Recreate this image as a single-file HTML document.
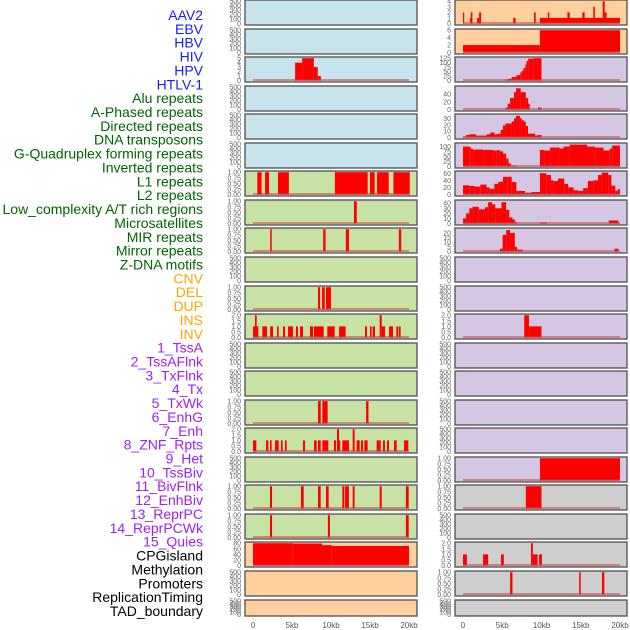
<!DOCTYPE html>
<html><head><meta charset="utf-8"><style>
body{margin:0;background:#fff;width:630px;height:630px;overflow:hidden}
svg{display:block}
</style></head><body>
<svg id="chart" width="630" height="630" xmlns="http://www.w3.org/2000/svg" font-family="Liberation Sans, sans-serif"></svg>
<script>
const trackLabels=["AAV2","EBV","HBV","HIV","HPV","HTLV-1","Alu repeats","A-Phased repeats","Directed repeats","DNA transposons","G-Quadruplex forming repeats","Inverted repeats","L1 repeats","L2 repeats","Low_complexity A/T rich regions","Microsatellites","MIR repeats","Mirror repeats","Z-DNA motifs","CNV","DEL","DUP","INS","INV","1_TssA","2_TssAFlnk","3_TxFlnk","4_Tx","5_TxWk","6_EnhG","7_Enh","8_ZNF_Rpts","9_Het","10_TssBiv","11_BivFlnk","12_EnhBiv","13_ReprPC","14_ReprPCWk","15_Quies","CPGisland","Methylation","Promoters","ReplicationTiming","TAD_boundary"];
const labelColors=["#1a1aff","#1a1aff","#1a1aff","#1a1aff","#1a1aff","#1a1aff","#006400","#006400","#006400","#006400","#006400","#006400","#006400","#006400","#006400","#006400","#006400","#006400","#006400","#ffa500","#ffa500","#ffa500","#ffa500","#ffa500","#a020f0","#a020f0","#a020f0","#a020f0","#a020f0","#a020f0","#a020f0","#a020f0","#a020f0","#a020f0","#a020f0","#a020f0","#a020f0","#a020f0","#a020f0","#000","#000","#000","#000","#000"];
const xTickValues=[0,5,10,15,20];
const xTickLabels=["0","5kb","10kb","15kb","20kb"];
const emptyTicks=[0,100,200,300,400,500];
const unitTicks=[0,0.25,0.5,0.75,1];
const unitTickLabels=["0.00","0.25","0.50","0.75","1.00"];
const twoTicks=[0,0.5,1,1.5,2];
const twoTickLabels=["0.0","0.5","1.0","1.5","2.0"];
// segments: [startKb, endKb, value]
const L2segs=[[5.4,6.3,4],[6.3,7.8,5],[7.8,8.3,3],[8.3,8.7,1]];
const L6segs=[[0.55,1.1,1],[1.54,2.05,1],[3.2,4.6,1],[10.5,14.7,1],[15,15.6,1],[15.9,17.4,1],[18,20.1,1]];
const L7segs=[[12.95,13.3,1]];
const L8segs=[[2.2,2.4,1],[9.0,9.3,1],[11.9,12.3,1],[18.7,19.0,1]];
const L10segs=[[8.33,8.6,1],[8.85,9.2,1],[9.36,10,1]];
const L11segs=[[0,0.68,1],[0.26,0.47,2],[1.2,1.8,1],[2.2,2.56,1],[3.08,3.29,1],[3.85,4.1,1],[4.49,5.13,1],[5.51,5.77,1],[6.03,6.41,1],[7.3,7.7,1],[7.82,9.06,1],[9.53,10.47,1],[11.03,11.88,1],[14.36,14.62,1],[15.0,15.2,1],[15.34,15.64,1],[16.24,16.5,2],[16.5,16.92,1],[17.44,17.95,1],[18.38,18.63,1],[18.72,18.93,1]];
const L14segs=[[8.33,8.68,1],[8.89,9.57,1],[14.5,14.8,1]];
const L15segs=[[0,0.43,1],[1.67,1.97,1],[2.18,2.39,1],[2.82,3.29,1],[3.59,3.8,1],[4.1,4.32,1],[6.41,6.67,1],[7.82,8.16,1],[8.33,8.68,1],[8.89,9.66,1],[10.38,10.64,1],[10.77,11.03,2],[11.03,11.11,1],[11.45,12.31,1],[12.78,13.03,2],[13.29,13.68,1],[13.85,14.1,1],[14.27,14.7,1],[15.85,16.37,1],[16.67,16.92,1],[17.18,17.44,1],[18.08,18.42,1],[19.36,19.91,1]];
const L17segs=[[2.18,2.44,1],[6.15,6.5,1],[8.33,8.68,1],[9.36,9.7,1],[11.45,11.7,1],[11.8,12.3,1],[12.78,13.03,1],[16.24,16.5,1],[19.6,19.96,1]];
const L18segs=[[2.18,2.44,1],[9.6,9.87,1],[19.6,19.96,1]];
const L19segs=[[0,5.1,80],[5.1,8.85,79],[8.85,10.1,73],[10.1,20,70]];
const R0segs=[[0,0.08,2],[0.9,1.0,1],[1.0,1.2,2],[1.8,2.05,1],[2.05,2.3,2],[6.4,6.7,1],[9.05,9.26,2],[9.8,20,1],[10.8,11.0,2],[13.3,13.6,2],[15.2,15.5,2],[16.6,16.8,3],[17.8,18.05,4],[18.05,18.3,2]];
const R1segs=[[0,9.8,2],[9.8,20,6]];
const R2segs=[[5.4,5.8,5],[5.8,6.2,10],[6.2,6.8,20],[6.8,7.3,30],[7.3,7.5,45],[7.5,7.7,55],[7.7,7.95,70],[7.95,8.1,90],[8.1,8.3,110],[8.3,8.95,122],[8.95,10.0,125]];
const R3segs=[[5.4,5.7,5],[5.7,6.0,15],[6.0,6.5,30],[6.5,6.75,45],[6.75,7.35,55],[7.35,8.0,45],[8.0,8.3,30],[8.3,8.5,15],[9.55,10.0,5]];
const R4segs=[[0,0.4,1],[0.4,0.9,4],[0.9,1.65,5],[1.65,3.0,3],[3.0,3.5,5],[3.5,4.0,8],[4.0,4.4,5],[4.4,4.8,6],[4.8,5.1,12],[5.1,5.4,19],[5.4,6.2,22],[6.2,6.5,25],[6.5,6.75,30],[6.75,7.25,34],[7.25,7.5,30],[7.5,7.77,27],[7.77,8.0,25],[8.0,8.28,18],[8.28,9.2,6],[9.2,9.5,3],[9.5,10.0,4]];
const R5segs=[[0,0.8,100],[0.8,1.0,98],[1.0,1.3,88],[1.3,2.6,85],[2.6,3.9,83],[3.9,4.3,80],[4.3,4.7,82],[4.7,5.1,76],[5.1,5.5,65],[5.5,5.8,40],[5.8,6.1,15],[6.1,6.9,4],[9.8,10.4,83],[10.4,11.1,80],[11.1,12.3,95],[12.3,12.8,90],[12.8,13.6,100],[13.6,15.8,110],[15.8,16.8,100],[16.8,17.9,95],[17.9,18.7,80],[18.7,19.0,90],[19.0,20,105]];
const R6segs=[[0,0.8,26],[0.8,1.5,24],[1.5,2.2,22],[2.2,3.0,28],[3.0,3.4,20],[3.4,4.0,16],[4.0,4.5,30],[4.5,5.1,36],[5.1,5.7,50],[5.7,6.2,50],[6.2,6.8,35],[6.8,7.9,10],[7.9,8.7,5],[8.7,9.8,7],[9.8,10.6,60],[10.6,11.2,55],[11.2,11.5,40],[11.5,12.1,38],[12.1,12.9,45],[12.9,13.4,30],[13.4,14.1,20],[14.1,14.7,12],[14.7,15.3,10],[15.3,15.9,18],[15.9,16.6,38],[16.6,17.2,40],[17.2,17.7,55],[17.7,18.5,62],[18.5,18.9,55],[18.9,19.4,25],[19.4,19.7,10],[19.7,20,15]];
const R7segs=[[0,0.4,10],[0.4,0.8,20],[0.8,1.2,30],[1.2,2.0,33],[2.0,2.8,28],[2.8,3.2,32],[3.2,3.7,42],[3.7,4.1,38],[4.1,4.9,30],[4.9,5.5,42],[5.5,5.9,27],[5.9,6.3,12],[6.3,6.6,8],[6.6,6.9,3],[9.8,10.7,2],[18.6,19.8,6]];
const R8segs=[[4.7,5.05,3],[5.05,5.5,18],[5.5,6.0,23],[6.0,6.6,20],[6.6,6.9,5],[6.9,7.6,2],[19.3,19.8,3]];
const R11segs=[[7.8,8.4,2],[8.4,10.0,1]];
const R16segs=[[9.8,20,1]];
const R17segs=[[8.0,10.0,1]];
const R19segs=[[0,0.5,1],[2.55,3.2,1],[4.84,5.2,1],[8.66,8.9,2],[8.9,9.5,1],[9.7,10.06,1]];
const R20segs=[[6.0,6.3,1],[14.8,15.0,1],[17.7,18.0,1]];

const BG={blue:"#c7e3eb",green:"#c8e1a4",peach:"#ffcf9e",lav:"#d5c6e3",gray:"#cecece"};
function E(n){return null}
const panels=[
 {c:0,r:0,bg:"blue"},{c:0,r:1,bg:"blue"},{c:0,r:2,bg:"blue",max:5,t:[0,1,2,3,4,5],s:L2segs},
 {c:0,r:3,bg:"blue"},{c:0,r:4,bg:"blue"},{c:0,r:5,bg:"blue"},
 {c:0,r:6,bg:"green",unit:1,s:L6segs},{c:0,r:7,bg:"green",unit:1,s:L7segs},{c:0,r:8,bg:"green",unit:1,s:L8segs},
 {c:0,r:9,bg:"green"},{c:0,r:10,bg:"green",unit:1,s:L10segs},{c:0,r:11,bg:"green",two:1,s:L11segs},
 {c:0,r:12,bg:"green"},{c:0,r:13,bg:"green"},{c:0,r:14,bg:"green",unit:1,s:L14segs},{c:0,r:15,bg:"green",two:1,s:L15segs},
 {c:0,r:16,bg:"green"},{c:0,r:17,bg:"green",unit:1,s:L17segs},{c:0,r:18,bg:"green",unit:1,s:L18segs},
 {c:0,r:19,bg:"peach",max:80,t:[0,20,40,60,80],s:L19segs},{c:0,r:20,bg:"peach"},{c:0,r:21,bg:"peach"},
 {c:1,r:0,bg:"peach",max:4,t:[0,1,2,3,4],s:R0segs},{c:1,r:1,bg:"peach",max:6,t:[0,2,4,6],s:R1segs},
 {c:1,r:2,bg:"lav",max:125,t:[0,25,50,75,100,125],s:R2segs},{c:1,r:3,bg:"lav",max:58,t:[0,20,40],s:R3segs},
 {c:1,r:4,bg:"lav",max:35,t:[0,10,20,30],s:R4segs},{c:1,r:5,bg:"lav",max:112,t:[0,25,50,75,100],s:R5segs},
 {c:1,r:6,bg:"lav",max:63,t:[0,20,40,60],s:R6segs},{c:1,r:7,bg:"lav",max:44,t:[0,10,20,30,40],s:R7segs},
 {c:1,r:8,bg:"lav",max:24,t:[0,5,10,15,20],s:R8segs},{c:1,r:9,bg:"lav"},{c:1,r:10,bg:"lav"},
 {c:1,r:11,bg:"lav",two:1,s:R11segs},{c:1,r:12,bg:"lav"},{c:1,r:13,bg:"lav"},{c:1,r:14,bg:"lav"},{c:1,r:15,bg:"lav"},
 {c:1,r:16,bg:"lav",unit:1,s:R16segs},{c:1,r:17,bg:"gray",unit:1,s:R17segs},{c:1,r:18,bg:"gray"},
 {c:1,r:19,bg:"gray",two:1,s:R19segs},{c:1,r:20,bg:"gray",unit:1,s:R20segs},{c:1,r:21,bg:"gray"}
];
const svg=document.getElementById('chart');
const NS="http://www.w3.org/2000/svg";
function mk(tag,a,parent){const e=document.createElementNS(NS,tag);for(const k in a)e.setAttribute(k,a[k]);(parent||svg).appendChild(e);return e;}
const colX=[{x0:245,x1:417,k0:253,k20:409},{x0:455,x1:627,k0:463,k20:620}];
function xs(c,kb){const C=colX[c];return C.k0+(C.k20-C.k0)*kb/20;}
function rowTop(r){return Math.round(r*28.55);}

trackLabels.forEach((t,i)=>{
 const e=mk('text',{x:203,y:(15+i*13.86+5).toFixed(1),'text-anchor':'end','font-size':'14',fill:labelColors[i]});
 
 
 e.textContent=t;
});

panels.forEach(p=>{
 const C=colX[p.c];const top=rowTop(p.r);const h=p.r===21?16:25;
 const g=mk('g',{});
 
 
 mk('rect',{x:C.x0,y:top,width:C.x1-C.x0,height:h,fill:BG[p.bg],stroke:'#5a5a5a','stroke-width':1.4},g);
 let ticks=emptyTicks,labels=emptyTicks.map(String),max=500;
 if(p.unit){ticks=unitTicks;labels=unitTickLabels;max=1;}
 else if(p.two){ticks=twoTicks;labels=twoTickLabels;max=2;}
 else if(p.t){ticks=p.t;labels=p.t.map(String);max=p.max;}
 const yb=top+h-1.5, yt=top+1.2;
 const ys=v=>yb-(yb-yt)*v/max;
 ticks.forEach((v,i)=>{
  const e=mk('text',{x:C.x0-4,y:(ys(v)+2.5).toFixed(1),'text-anchor':'end','font-size':'7',fill:'#666'},g);
  
  
  e.textContent=labels[i];
 });
 if(p.s){
  p.s.forEach(sg=>{
   const x1=xs(p.c,sg[0]),x2=xs(p.c,sg[1]);
   const b=mk('rect',{x:x1.toFixed(2),y:ys(sg[2]).toFixed(2),width:Math.max(1.2,x2-x1).toFixed(2),height:(yb-ys(sg[2])).toFixed(2),fill:'#ff0000'},g);
   
   
  });
  const bl=mk('line',{x1:xs(p.c,0),x2:xs(p.c,20),y1:yb-0.5,y2:yb-0.5,stroke:'rgba(200,60,60,0.6)','stroke-width':1.8},g);
  
  
 }
});
[0,1].forEach(c=>{
 xTickValues.forEach((v,i)=>{
  const e=mk('text',{x:xs(c,v),y:628,'text-anchor':'middle','font-size':'8',fill:'#555'});
  
  
  e.textContent=xTickLabels[i];
 });
});
</script>
</body></html>
